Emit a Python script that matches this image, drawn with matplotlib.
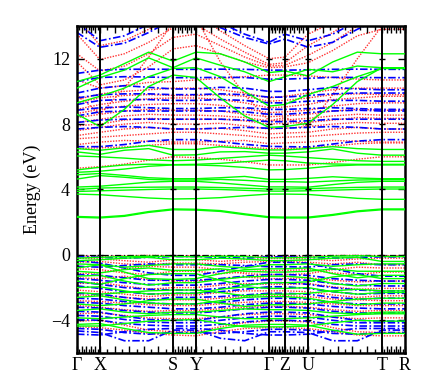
import numpy as np
import matplotlib
matplotlib.use('Agg')
import matplotlib.pyplot as plt

plt.rcParams['font.family'] = ['Liberation Serif', 'DejaVu Serif']

# high-symmetry path
kpath_labels = ['Γ', 'X', 'S', 'Y', 'Γ', 'Z', 'U', 'T', 'R']
kpath_dist = [0, 23, 96, 119, 192, 208, 231, 305, 328]

# energies (eV) sampled at: Γ, X, X-S 1/3, X-S 2/3, S, Y, Y-Γ 1/3, Y-Γ 2/3, Γ, Z, U, U-T 1/3, U-T 2/3, T, R
green_cond = [
    [2.30, 2.26, 2.36, 2.60, 2.76, 2.74, 2.66, 2.46, 2.28, 2.26, 2.26, 2.42, 2.64, 2.76, 2.76],
    [2.35, 2.31, 2.41, 2.65, 2.81, 2.79, 2.71, 2.51, 2.33, 2.31, 2.31, 2.47, 2.69, 2.81, 2.81],
    [3.72, 3.68, 3.58, 3.48, 3.42, 3.44, 3.50, 3.62, 3.72, 3.72, 3.70, 3.58, 3.46, 3.40, 3.40],
    [3.88, 3.92, 3.96, 4.00, 4.03, 4.03, 4.00, 3.95, 3.90, 3.90, 3.92, 3.96, 4.00, 4.03, 4.03],
    [4.00, 4.09, 4.12, 4.14, 4.15, 4.15, 4.12, 4.08, 4.03, 4.03, 4.05, 4.10, 4.13, 4.15, 4.15],
    [4.15, 4.20, 4.32, 4.45, 4.50, 4.50, 4.40, 4.28, 4.16, 4.16, 4.14, 4.30, 4.44, 4.50, 4.50],
    [4.64, 4.85, 4.75, 4.62, 4.58, 4.58, 4.62, 4.56, 4.48, 4.48, 4.45, 4.52, 4.58, 4.60, 4.60],
    [4.90, 4.98, 4.86, 4.72, 4.66, 4.66, 4.72, 4.80, 4.62, 4.62, 4.68, 4.78, 4.70, 4.66, 4.66],
    [5.05, 5.12, 5.25, 5.42, 5.50, 5.50, 5.45, 5.35, 5.20, 5.22, 5.30, 5.44, 5.50, 5.50, 5.50],
    [5.20, 5.36, 5.50, 5.55, 5.52, 5.54, 5.60, 5.70, 5.80, 5.76, 5.62, 5.56, 5.54, 5.54, 5.54],
    [6.05, 6.00, 5.92, 5.82, 5.76, 5.80, 5.90, 6.00, 6.10, 6.05, 5.95, 5.85, 5.76, 5.72, 5.72],
    [6.30, 6.15, 6.40, 6.50, 6.10, 6.12, 6.30, 6.32, 6.22, 6.22, 6.30, 6.48, 6.22, 6.10, 6.10],
    [6.50, 6.40, 6.55, 6.70, 6.45, 6.45, 6.62, 6.52, 6.42, 6.42, 6.50, 6.62, 6.50, 6.45, 6.45],
    [8.60, 7.85, 8.90, 10.30, 11.00, 10.85, 9.60, 8.50, 7.80, 7.85, 8.05, 9.20, 10.60, 11.45, 11.45],
    [10.60, 11.00, 11.70, 12.40, 11.85, 12.40, 12.30, 11.80, 11.15, 11.25, 10.95, 11.80, 12.40, 12.30, 12.30],
    [10.20, 10.85, 11.30, 12.05, 11.45, 12.05, 11.60, 11.20, 10.60, 10.90, 11.35, 11.20, 11.55, 11.45, 11.40],
    [9.30, 9.70, 10.20, 10.90, 11.40, 11.45, 10.90, 10.00, 9.10, 9.20, 9.80, 10.30, 10.90, 11.40, 11.40],
]
green_val = [
    [-0.20, -0.15, -0.10, -0.08, -0.10, -0.12, -0.08, -0.10, -0.18, -0.18, -0.15, -0.08, -0.05, -0.10, -0.10],
    [-0.35, -0.30, -0.20, -0.15, -0.30, -0.30, -0.20, -0.25, -0.35, -0.35, -0.30, -0.20, -0.15, -0.40, -0.40],
    [-0.55, -0.60, -0.75, -0.65, -0.55, -0.55, -0.70, -0.80, -0.60, -0.60, -0.55, -0.70, -0.60, -0.55, -0.55],
    [-0.80, -0.60, -1.05, -1.45, -1.50, -1.45, -1.15, -0.90, -0.85, -0.85, -0.80, -1.15, -1.40, -1.25, -1.25],
    [-1.00, -1.10, -0.90, -0.80, -0.95, -0.95, -0.85, -1.00, -1.05, -1.05, -1.00, -0.85, -1.00, -1.00, -1.00],
    [-1.30, -1.25, -1.60, -1.85, -1.70, -1.70, -1.50, -1.35, -1.30, -1.30, -1.40, -1.75, -1.90, -1.75, -1.75],
    [-1.60, -1.80, -1.45, -1.20, -1.15, -1.15, -1.55, -1.85, -1.70, -1.70, -1.65, -1.35, -1.20, -1.45, -1.45],
    [-2.00, -1.95, -2.20, -2.40, -2.35, -2.35, -2.10, -1.95, -2.05, -2.05, -2.00, -2.25, -2.40, -2.30, -2.30],
    [-2.30, -2.40, -2.30, -2.20, -2.15, -2.15, -2.30, -2.50, -2.40, -2.40, -2.35, -2.20, -2.10, -2.20, -2.20],
    [-2.60, -2.50, -2.75, -2.95, -3.00, -3.00, -2.80, -2.60, -2.55, -2.55, -2.65, -2.90, -3.05, -2.95, -2.95],
    [-3.00, -3.10, -3.00, -2.80, -2.70, -2.70, -2.95, -3.15, -3.05, -3.05, -3.00, -2.85, -2.70, -2.65, -2.65],
    [-3.40, -3.30, -3.50, -3.60, -3.50, -3.50, -3.40, -3.30, -3.35, -3.35, -3.40, -3.55, -3.60, -3.50, -3.50],
    [-3.85, -3.90, -3.80, -3.70, -3.65, -3.65, -3.80, -3.90, -3.90, -3.90, -3.85, -3.75, -3.65, -3.60, -3.60],
    [-4.25, -4.20, -4.50, -4.75, -4.80, -4.80, -4.50, -4.30, -4.25, -4.25, -4.30, -4.60, -4.85, -4.80, -4.80],
    [-4.35, -4.35, -4.20, -4.05, -4.00, -3.95, -4.20, -4.40, -4.40, -4.40, -4.35, -4.15, -4.00, -4.05, -4.05],
]
red_cond = [
    [5.30, 5.40, 5.55, 5.80, 6.00, 5.95, 5.85, 5.70, 5.50, 5.50, 5.50, 5.65, 5.85, 6.00, 6.00],
    [6.50, 6.55, 6.60, 6.70, 6.80, 6.80, 6.70, 6.60, 6.50, 6.50, 6.55, 6.65, 6.80, 6.85, 6.85],
    [6.75, 6.90, 7.00, 6.95, 6.90, 6.90, 6.95, 7.00, 6.80, 6.85, 6.90, 7.00, 6.95, 6.90, 6.90],
    [7.10, 7.20, 7.30, 7.40, 7.50, 7.50, 7.40, 7.30, 7.15, 7.20, 7.25, 7.35, 7.45, 7.50, 7.50],
    [7.30, 7.50, 7.70, 7.80, 7.70, 7.70, 7.75, 7.60, 7.40, 7.45, 7.50, 7.70, 7.80, 7.70, 7.70],
    [7.60, 7.80, 8.00, 8.10, 8.00, 8.00, 8.05, 7.90, 7.70, 7.75, 7.85, 8.00, 8.10, 8.05, 8.05],
    [7.90, 8.00, 8.25, 8.35, 8.30, 8.30, 8.30, 8.20, 8.00, 8.05, 8.10, 8.25, 8.40, 8.35, 8.35],
    [8.10, 8.30, 8.50, 8.60, 8.55, 8.55, 8.50, 8.40, 8.20, 8.25, 8.35, 8.50, 8.60, 8.55, 8.55],
    [8.40, 8.60, 8.80, 8.90, 8.85, 8.85, 8.80, 8.60, 8.45, 8.50, 8.60, 8.80, 8.90, 8.85, 8.85],
    [8.65, 8.90, 9.10, 9.20, 9.25, 9.25, 9.15, 8.95, 8.70, 8.75, 8.85, 9.10, 9.25, 9.30, 9.30],
    [8.90, 9.20, 9.40, 9.55, 9.60, 9.60, 9.50, 9.30, 9.00, 9.05, 9.20, 9.50, 9.60, 9.70, 9.70],
    [9.30, 9.60, 9.75, 9.80, 9.75, 9.75, 9.80, 9.70, 9.40, 9.45, 9.60, 9.80, 9.85, 9.80, 9.80],
    [9.50, 9.85, 10.00, 10.10, 10.20, 10.20, 10.10, 9.90, 9.60, 9.70, 9.90, 10.10, 10.20, 10.20, 10.20],
    [9.80, 8.60, 10.20, 12.10, 14.20, 14.50, 11.80, 9.80, 8.20, 8.40, 7.85, 9.80, 12.00, 14.00, 14.20],
    [11.80, 10.40, 10.70, 11.50, 12.60, 12.80, 12.30, 11.80, 11.45, 11.50, 11.75, 12.50, 13.40, 13.80, 13.80],
    [12.30, 11.25, 11.55, 12.30, 13.30, 13.50, 12.80, 12.10, 11.55, 11.60, 12.20, 13.00, 14.00, 14.40, 14.40],
    [13.50, 11.95, 12.30, 13.00, 13.90, 14.10, 13.20, 12.40, 11.65, 11.75, 12.80, 13.60, 14.60, 15.00, 15.00],
    [14.50, 12.80, 13.10, 13.80, 14.60, 14.80, 13.70, 12.80, 12.00, 12.10, 13.50, 14.20, 15.00, 15.50, 15.50],
    [10.70, 10.20, 10.35, 10.55, 10.60, 10.70, 10.80, 10.90, 11.00, 11.00, 10.95, 10.85, 10.75, 10.70, 10.70],
]
red_val = [
    [-0.05, -0.10, -0.05, -0.03, -0.05, -0.05, -0.05, -0.08, -0.10, -0.10, -0.08, -0.04, -0.03, -0.05, -0.05],
    [-0.45, -0.40, -0.55, -0.60, -0.50, -0.50, -0.55, -0.45, -0.40, -0.40, -0.45, -0.55, -0.45, -0.60, -0.60],
    [-0.85, -0.90, -1.10, -1.20, -1.00, -1.00, -1.15, -1.05, -0.95, -0.95, -0.90, -1.10, -1.20, -1.05, -1.05],
    [-1.40, -1.45, -1.30, -1.50, -1.60, -1.60, -1.45, -1.35, -1.45, -1.45, -1.40, -1.55, -1.65, -1.60, -1.60],
    [-1.75, -1.70, -1.90, -2.10, -2.00, -2.00, -1.85, -1.75, -1.80, -1.80, -1.75, -1.95, -2.10, -2.05, -2.05],
    [-2.15, -2.25, -2.40, -2.55, -2.45, -2.45, -2.30, -2.20, -2.20, -2.20, -2.25, -2.45, -2.60, -2.50, -2.50],
    [-2.45, -2.50, -2.60, -2.70, -2.75, -2.75, -2.65, -2.55, -2.50, -2.50, -2.55, -2.70, -2.75, -2.80, -2.80],
    [-2.80, -2.85, -2.95, -3.05, -3.10, -3.10, -3.00, -2.90, -2.85, -2.85, -2.90, -3.00, -3.10, -3.10, -3.10],
    [-3.10, -3.20, -3.35, -3.45, -3.40, -3.40, -3.30, -3.20, -3.15, -3.15, -3.20, -3.35, -3.45, -3.40, -3.40],
    [-3.60, -3.55, -3.70, -3.85, -3.90, -3.90, -3.80, -3.65, -3.60, -3.60, -3.65, -3.80, -3.90, -3.85, -3.85],
    [-4.05, -4.00, -4.30, -4.60, -4.70, -4.70, -4.40, -4.15, -4.05, -4.05, -4.10, -4.45, -4.70, -4.75, -4.75],
    [-4.40, -4.45, -4.60, -4.80, -4.90, -4.95, -4.70, -4.50, -4.45, -4.45, -4.50, -4.70, -4.90, -4.95, -4.95],
    [-0.20, -0.25, -0.35, -0.45, -0.30, -0.28, -0.40, -0.30, -0.22, -0.22, -0.25, -0.35, -0.25, -0.20, -0.20],
    [-1.15, -1.10, -0.85, -0.70, -0.75, -0.75, -0.90, -1.15, -1.20, -1.20, -1.15, -0.90, -0.75, -0.80, -0.80],
]
blue_cond = [
    [6.62, 6.62, 6.75, 6.95, 7.05, 7.05, 6.92, 6.76, 6.64, 6.62, 6.60, 6.78, 6.96, 7.05, 7.05],
    [7.70, 7.80, 7.85, 7.80, 7.70, 7.70, 7.75, 7.80, 7.75, 7.75, 7.80, 7.85, 7.80, 7.70, 7.70],
    [8.10, 8.25, 8.30, 8.30, 8.30, 8.30, 8.30, 8.25, 8.15, 8.15, 8.20, 8.30, 8.30, 8.30, 8.30],
    [8.50, 8.75, 8.80, 8.80, 8.80, 8.80, 8.80, 8.75, 8.60, 8.60, 8.70, 8.80, 8.85, 8.80, 8.80],
    [8.85, 9.00, 9.05, 9.00, 8.95, 8.95, 9.00, 9.00, 8.90, 8.90, 8.95, 9.00, 8.95, 8.90, 8.90],
    [9.20, 9.45, 9.50, 9.50, 9.45, 9.45, 9.50, 9.45, 9.30, 9.30, 9.40, 9.45, 9.45, 9.40, 9.40],
    [9.60, 9.80, 9.85, 9.85, 9.80, 9.80, 9.85, 9.80, 9.65, 9.65, 9.75, 9.85, 9.90, 9.90, 9.90],
    [9.90, 10.20, 10.35, 10.25, 10.15, 10.15, 10.25, 10.20, 10.00, 10.00, 10.10, 10.25, 10.15, 10.10, 10.10],
    [10.60, 10.85, 10.90, 10.88, 10.84, 10.84, 10.86, 10.85, 10.75, 10.75, 10.80, 10.86, 10.85, 10.84, 10.84],
    [11.10, 11.30, 11.35, 11.36, 11.35, 11.35, 11.36, 11.35, 11.30, 11.30, 11.32, 11.35, 11.36, 11.35, 11.35],
    [14.20, 13.10, 13.40, 14.10, 14.80, 15.00, 14.20, 13.50, 13.00, 13.50, 13.10, 13.50, 14.30, 15.00, 15.00],
    [13.60, 12.70, 12.95, 13.60, 14.40, 14.60, 13.90, 13.30, 12.90, 13.20, 12.70, 13.00, 13.80, 14.50, 14.50],
]
blue_val = [
    [-0.10, -0.15, -0.20, -0.15, -0.10, -0.10, -0.15, -0.20, -0.12, -0.12, -0.15, -0.20, -0.15, -0.12, -0.12],
    [-0.35, -0.50, -0.80, -1.10, -1.25, -1.25, -1.00, -0.70, -0.45, -0.45, -0.50, -0.85, -1.15, -1.30, -1.30],
    [-0.70, -0.75, -0.65, -0.55, -0.60, -0.60, -0.60, -0.65, -0.72, -0.72, -0.75, -0.60, -0.55, -0.60, -0.60],
    [-1.20, -1.25, -1.40, -1.55, -1.55, -1.55, -1.45, -1.30, -1.20, -1.20, -1.25, -1.45, -1.55, -1.60, -1.60],
    [-1.45, -1.55, -1.70, -1.80, -1.85, -1.85, -1.75, -1.60, -1.50, -1.50, -1.55, -1.75, -1.85, -1.90, -1.90],
    [-1.65, -1.80, -2.00, -2.10, -2.15, -2.15, -2.05, -1.85, -1.70, -1.70, -1.80, -2.00, -2.15, -2.20, -2.20],
    [-1.90, -2.05, -2.25, -2.40, -2.35, -2.35, -2.25, -2.10, -1.95, -1.95, -2.05, -2.25, -2.40, -2.35, -2.35],
    [-2.35, -2.40, -2.60, -2.75, -2.60, -2.60, -2.55, -2.45, -2.35, -2.35, -2.40, -2.60, -2.70, -2.65, -2.65],
    [-2.65, -2.70, -2.85, -2.95, -3.00, -3.00, -2.90, -2.75, -2.65, -2.65, -2.70, -2.90, -3.00, -3.00, -3.00],
    [-2.90, -2.95, -3.10, -3.20, -3.30, -3.30, -3.20, -3.05, -2.95, -2.95, -3.00, -3.15, -3.25, -3.30, -3.30],
    [-3.20, -3.25, -3.40, -3.50, -3.55, -3.55, -3.45, -3.30, -3.20, -3.20, -3.25, -3.45, -3.55, -3.55, -3.55],
    [-3.45, -3.50, -3.75, -3.95, -4.00, -4.00, -3.80, -3.60, -3.50, -3.50, -3.55, -3.80, -4.00, -4.05, -4.05],
    [-3.70, -3.75, -3.95, -4.10, -4.15, -4.15, -4.00, -3.85, -3.75, -3.75, -3.80, -4.00, -4.15, -4.15, -4.15],
    [-3.95, -4.00, -4.20, -4.30, -4.35, -4.35, -4.25, -4.10, -4.00, -4.00, -4.05, -4.25, -4.35, -4.35, -4.35],
    [-4.50, -4.55, -4.75, -4.85, -4.75, -4.75, -4.80, -4.70, -4.55, -4.55, -4.60, -4.80, -4.85, -4.75, -4.75],
    [-4.65, -4.75, -5.25, -5.25, -4.60, -4.60, -5.10, -5.25, -4.70, -4.70, -4.75, -5.25, -5.25, -4.60, -4.60],
    [-4.85, -4.90, -4.70, -4.55, -4.50, -4.50, -4.60, -4.80, -4.90, -4.90, -4.85, -4.65, -4.50, -4.50, -4.50],
]

y_ticks = [-4, 0, 4, 8, 12]
y_range = (-6, 14)

# k positions of the sampled energies
d = kpath_dist
def thirds(a, b):
    return [a + (b - a) / 3.0, a + 2.0 * (b - a) / 3.0]
k_samples = np.array([d[0], d[1], *thirds(d[1], d[2]), d[2], d[3], *thirds(d[3], d[4]),
                      d[4], d[5], d[6], *thirds(d[6], d[7]), d[7], d[8]], dtype=float)

fig = plt.figure(figsize=(4.36, 3.90), dpi=100)
ax = fig.add_axes([77 / 436, 1 - 353 / 390, 328 / 436, 327 / 390])

red_style = dict(color='#ff3333', lw=1.0, ls=(0, (1, 1)), zorder=1)
blue_style = dict(color='#0000ff', lw=1.2, ls=(0, (4.5, 1.5, 1, 1.5)), zorder=2)
green_style = dict(color='#00ff00', lw=1.0, ls='-', zorder=3)

for band in red_cond + red_val:
    ax.plot(k_samples, band, **red_style)
for band in blue_cond + blue_val:
    ax.plot(k_samples, band, **blue_style)
for band in green_cond + green_val:
    ax.plot(k_samples, band, **green_style)

# Fermi level
ax.axhline(0, color='black', lw=0.9, ls=(0, (5, 2, 1, 2)), zorder=2.5)

# high-symmetry vertical lines
for x in d[1:-1]:
    ax.axvline(x, color='black', lw=1.4, zorder=5)
    ax.plot([x] * len(y_ticks), y_ticks, ls='none', marker='_', ms=5, mew=1.0, color='black', zorder=6)

ax.set_xlim(d[0], d[-1])
ax.set_ylim(*y_range)

# x ticks: 10 subdivisions per segment, alternating long/short
major_x, minor_x = [], []
for a, b in zip(d[:-1], d[1:]):
    ts = np.linspace(a, b, 11)
    major_x += list(ts[0::2])
    minor_x += list(ts[1::2])
major_x = sorted(set(np.round(major_x, 6)))
labels = []
for m in major_x:
    if m in d:
        labels.append(kpath_labels[d.index(m)])
    else:
        labels.append('')
ax.set_xticks(major_x)
ax.set_xticklabels(labels)
ax.set_xticks(minor_x, minor=True)
ax.tick_params(axis='x', which='major', direction='in', length=5, width=1.0,
               top=True, bottom=True, pad=3, labelsize=13)
ax.tick_params(axis='x', which='minor', direction='in', length=3, width=1.0,
               top=True, bottom=True)

ax.set_yticks(y_ticks)
ax.set_yticklabels(['\u22124', '0', '4', '8', '12'])
ax.tick_params(axis='y', which='major', direction='in', length=5, width=1.0,
               left=True, right=True, pad=5, labelsize=13)

for s in ax.spines.values():
    s.set_linewidth(1.8)

ax.set_ylabel('Energy (eV)', fontsize=13)
ax.yaxis.set_label_coords(-0.11, 0.5)

fig.savefig('out.png', dpi=100)
